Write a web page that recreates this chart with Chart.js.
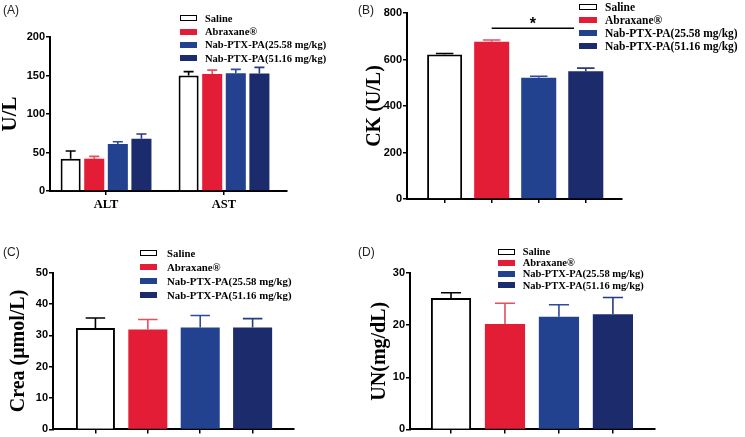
<!DOCTYPE html>
<html>
<head>
<meta charset="utf-8">
<script src="https://cdn.jsdelivr.net/npm/chart.js@4.4.1/dist/chart.umd.min.js"></script>
<style>
  body { margin: 0; background: #fff; }
  #wrap { position: relative; width: 745px; height: 437px; overflow: hidden; background: #fff; }
  canvas { position: absolute; }
  .tag { position: absolute; font: 12px "Liberation Sans", Arial, sans-serif; color: #222; }
  .legend { position: absolute; font-family: "Liberation Serif", "Times New Roman", serif; font-weight: bold; color: #000; }
  .legend .row { display: flex; align-items: center; white-space: nowrap; }
  .legend .sw { display: inline-block; box-sizing: border-box; flex: none; }
</style>
</head>
<body>
<div id="wrap">
  <canvas id="chartA" width="355" height="218" style="left:0;top:0"></canvas>
  <canvas id="chartB" width="390" height="218" style="left:355px;top:0"></canvas>
  <canvas id="chartC" width="355" height="212" style="left:0;top:225px"></canvas>
  <canvas id="chartD" width="390" height="212" style="left:355px;top:225px"></canvas>
  <div class="tag" style="left:3px;top:3px">(A)</div>
  <div class="tag" style="left:358px;top:3px">(B)</div>
  <div class="tag" style="left:3px;top:245px">(C)</div>
  <div class="tag" style="left:358px;top:245px">(D)</div>
  <div class="legend" id="legA"></div>
  <div class="legend" id="legB"></div>
  <div class="legend" id="legC"></div>
  <div class="legend" id="legD"></div>
</div>
<script>
// ----------------------------
// Data
// ----------------------------
const groupNames = ["Saline", "Abraxane®", "Nab-PTX-PA(25.58 mg/kg)", "Nab-PTX-PA(51.16 mg/kg)"];
const groupColors = ["#ffffff", "#e31d36", "#22428f", "#1c2b6c"];
const errorColors = ["#000000", "#e4505f", "#2f4c9c", "#283a84"];

// (A) liver enzymes, one array per group: [ALT, AST]
const liverLabels = ["ALT", "AST"];
const liverSaline = [42, 150];
const liverSalineErr = [10, 5];
const liverAbraxane = [42, 152];
const liverAbraxaneErr = [3, 5];
const liverNabLow = [61, 153];
const liverNabLowErr = [3, 5];
const liverNabHigh = [68, 152.5];
const liverNabHighErr = [6, 8];
const liverTicks = [0, 200, 50];

// (B) CK, one value per group
const ckValues = [621, 676, 522, 550];
const ckErrors = [5, 8, 6, 13];
const ckTicks = [0, 800, 200];

// (C) Crea
const creaValues = [32.3, 31.8, 32.5, 32.5];
const creaErrors = [3.2, 3.2, 3.8, 2.8];
const creaTicks = [0, 50, 10];

// (D) UN
const unValues = [25.2, 20.2, 21.6, 22.1];
const unErrors = [1.0, 4.0, 2.3, 3.2];
const unTicks = [0, 30, 10];

// ----------------------------
// Plugins
// ----------------------------
const errorBars = {
  id: "errorBars",
  afterDatasetsDraw(chart) {
    const ctx = chart.ctx;
    const yScale = chart.scales.y;
    chart.data.datasets.forEach((ds, di) => {
      const meta = chart.getDatasetMeta(di);
      meta.data.forEach((bar, i) => {
        const top = yScale.getPixelForValue(ds.data[i].y + ds.errors[i]);
        const half = bar.width / 4;
        ctx.save();
        ctx.strokeStyle = Array.isArray(ds.errorColor) ? ds.errorColor[i] : ds.errorColor;
        ctx.lineWidth = 1.6;
        ctx.beginPath();
        ctx.moveTo(bar.x, bar.y);
        ctx.lineTo(bar.x, top);
        ctx.moveTo(bar.x - half, top);
        ctx.lineTo(bar.x + half, top);
        ctx.stroke();
        ctx.restore();
      });
    });
  }
};

const sigBracket = {
  id: "sigBracket",
  afterDatasetsDraw(chart, args, opts) {
    const ctx = chart.ctx;
    const x1 = chart.scales.x.getPixelForValue(opts.from);
    const x2 = chart.scales.x.getPixelForValue(opts.to);
    const y = chart.scales.y.getPixelForValue(opts.y);
    ctx.save();
    ctx.strokeStyle = "#000";
    ctx.lineWidth = 1.5;
    ctx.beginPath();
    ctx.moveTo(x1, y);
    ctx.lineTo(x2, y);
    ctx.stroke();
    ctx.fillStyle = "#000";
    ctx.font = "bold 16px 'Liberation Sans', Arial";
    ctx.textAlign = "center";
    ctx.textBaseline = "alphabetic";
    ctx.fillText(opts.text, (x1 + x2) / 2, y + 1);
    ctx.restore();
  }
};

// ----------------------------
// Helpers
// ----------------------------
const tickFont = { family: "'Liberation Sans', Arial, sans-serif", size: 11, weight: "bold" };
const serif = "'Liberation Serif', 'Times New Roman', serif";

function yAxis(ticks, title, width, titlePad, titleSize) {
  return {
    min: ticks[0], max: ticks[1],
    ticks: { stepSize: ticks[2], color: "#000", font: tickFont, padding: 1 },
    grid: { drawOnChartArea: false, drawTicks: true, tickLength: 4, color: "#000", lineWidth: 1.5 },
    border: { color: "#000", width: 2 },
    title: { display: true, text: title, color: "#000",
      font: { family: serif, size: titleSize, weight: "bold", lineHeight: 1 },
      padding: { top: titlePad, bottom: 0 } },
    afterFit: s => { s.width = width; }
  };
}

function xAxis(min, max, labels, height) {
  return {
    type: "linear", min: min, max: max, offset: false,
    ticks: { stepSize: 1, includeBounds: false, autoSkip: false, maxRotation: 0, color: "#000",
      font: { family: serif, size: 12.5, weight: "bold" }, padding: 2,
      callback: v => labels[v - 1] || "" },
    grid: { offset: false, drawOnChartArea: false, drawTicks: true, tickLength: 4, color: "#000", lineWidth: 1.5 },
    border: { color: "#000", width: 2 },
    afterFit: s => { s.height = height; }
  };
}

function toPoints(values) {
  return values.map((v, i) => ({ x: i + 1, y: v }));
}

function singleDataset(values, errors) {
  return {
    data: toPoints(values),
    errors: errors,
    errorColor: errorColors,
    backgroundColor: groupColors,
    borderColor: "#000",
    borderWidth: groupColors.map((c, i) => i === 0 ? 2 : 0),
    barPercentage: 0.745,
    categoryPercentage: 1
  };
}

function baseOptions(padding, x, y) {
  return {
    responsive: false,
    animation: false,
    layout: { padding: padding },
    plugins: { legend: { display: false }, tooltip: { enabled: false } },
    scales: { x: x, y: y }
  };
}

function buildLegend(id, left, top, rowH, boxW, boxGap, fontSize) {
  const el = document.getElementById(id);
  el.style.left = left + "px";
  el.style.top = top + "px";
  el.style.fontSize = fontSize + "px";
  groupNames.forEach((name, i) => {
    const row = document.createElement("div");
    row.className = "row";
    row.style.height = rowH + "px";
    const sw = document.createElement("span");
    sw.className = "sw";
    sw.style.width = boxW + "px";
    sw.style.marginRight = boxGap + "px";
    if (i === 0) {
      sw.style.height = "6px";
      sw.style.border = "1.6px solid #000";
      sw.style.background = "#fff";
    } else {
      sw.style.height = "6px";
      sw.style.background = groupColors[i];
    }
    row.appendChild(sw);
    row.appendChild(document.createTextNode(name));
    el.appendChild(row);
  });
}

// ----------------------------
// (A) ALT / AST
// ----------------------------
const liverSets = [
  [liverSaline, liverSalineErr],
  [liverAbraxane, liverAbraxaneErr],
  [liverNabLow, liverNabLowErr],
  [liverNabHigh, liverNabHighErr]
];

new Chart(document.getElementById("chartA"), {
  type: "bar",
  data: {
    datasets: liverSets.map((s, i) => ({
      label: groupNames[i],
      data: toPoints(s[0]),
      errors: s[1],
      errorColor: errorColors[i],
      backgroundColor: groupColors[i],
      borderColor: "#000",
      borderWidth: i === 0 ? 2 : 0,
      barPercentage: 0.85,
      categoryPercentage: 0.8
    }))
  },
  options: baseOptions({ left: 0, top: 37, right: 68, bottom: 0 },
    xAxis(0.525, 2.534, liverLabels, 27),
    yAxis(liverTicks, "U/L", 50, 0.5, 21)),
  plugins: [errorBars]
});

// ----------------------------
// (B) CK
// ----------------------------
const optsB = baseOptions({ left: 0, top: 13, right: 123, bottom: 0 },
  xAxis(0.2, 4.77, ["", "", "", ""], 19),
  yAxis(ckTicks, "CK (U/L)", 52, 10, 20));
optsB.plugins.sigBracket = { from: 2, to: 3.75, y: 734, text: "*" };

new Chart(document.getElementById("chartB"), {
  type: "bar",
  data: { datasets: [singleDataset(ckValues, ckErrors)] },
  options: optsB,
  plugins: [errorBars, sigBracket]
});

// ----------------------------
// (C) Crea
// ----------------------------
new Chart(document.getElementById("chartC"), {
  type: "bar",
  data: { datasets: [singleDataset(creaValues, creaErrors)] },
  options: baseOptions({ left: 0, top: 47.5, right: 61, bottom: 0 },
    xAxis(0.19, 4.79, ["", "", "", ""], 6),
    yAxis(creaTicks, "Crea (μmol/L)", 53, 9, 20)),
  plugins: [errorBars]
});

// ----------------------------
// (D) UN
// ----------------------------
new Chart(document.getElementById("chartD"), {
  type: "bar",
  data: { datasets: [singleDataset(unValues, unErrors)] },
  options: baseOptions({ left: 0, top: 48, right: 90, bottom: 0 },
    xAxis(0.24, 4.78, ["", "", "", ""], 7),
    yAxis(unTicks, "UN(mg/dL)", 55, 15, 20)),
  plugins: [errorBars]
});

// ----------------------------
// Legends
// ----------------------------
buildLegend("legA", 180, 11.7, 13.3, 17, 8, 10.5);
buildLegend("legB", 579, 0.5, 13, 18, 8, 11.5);
buildLegend("legC", 140, 245.5, 14, 17, 10, 10.8);
buildLegend("legD", 498, 246, 11.2, 17, 7.7, 10.5);
</script>
</body>
</html>
